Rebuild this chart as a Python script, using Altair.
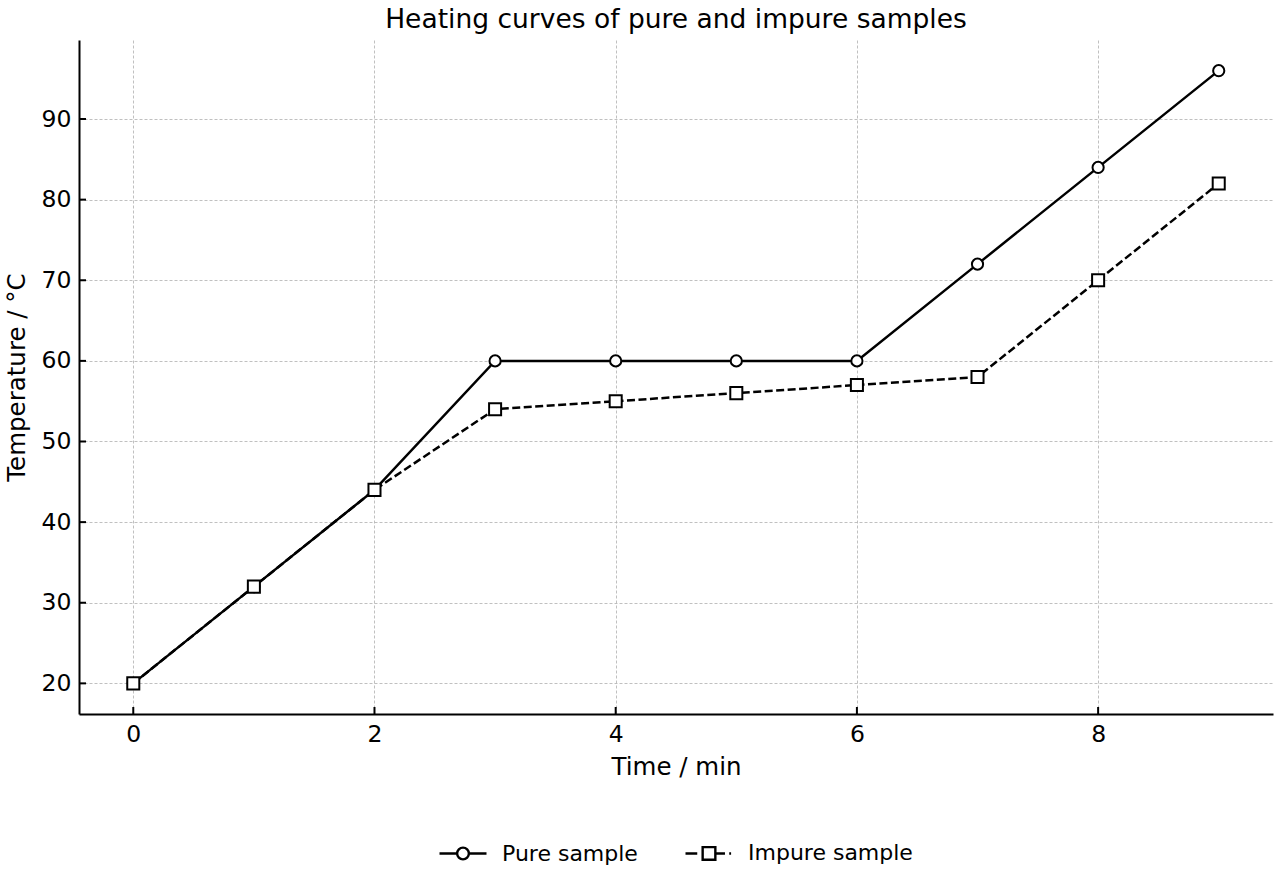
import altair as alt
import pandas as pd

# Heating data: temperature (°C) read every minute
time_min = [0, 1, 2, 3, 4, 5, 6, 7, 8, 9]
pure_temp = [20, 32, 44, 60, 60, 60, 60, 72, 84, 96]
impure_temp = [20, 32, 44, 54, 55, 56, 57, 58, 70, 82]
series_names = ["Pure sample", "Impure sample"]

x_ticks = [0, 2, 4, 6, 8]
y_ticks = [20, 30, 40, 50, 60, 70, 80, 90]

FONT = "DejaVu Sans"

df = pd.DataFrame(
    {
        "time": time_min + time_min,
        "temp": pure_temp + impure_temp,
        "series": [series_names[0]] * len(time_min) + [series_names[1]] * len(time_min),
    }
)

x_scale = alt.Scale(domain=[-0.45, 9.45], nice=False, zero=False)
y_scale = alt.Scale(domain=[16.2, 99.8], nice=False, zero=False)

x_enc = alt.X(
    "time:Q",
    scale=x_scale,
    axis=alt.Axis(
        values=x_ticks,
        title="Time / min",
        titlePadding=10,
        labelPadding=8,
        ticks=False,
        format="d",
    ),
)
y_enc = alt.Y(
    "temp:Q",
    scale=y_scale,
    axis=alt.Axis(
        values=y_ticks,
        title="Temperature / °C",
        titlePadding=12,
        labelPadding=8,
        ticks=False,
        format="d",
    ),
)

base = alt.Chart(df).encode(x=x_enc, y=y_enc)

pure_line = base.transform_filter(alt.datum.series == series_names[0]).mark_line(
    color="black", strokeWidth=2.5
)
pure_pts = base.transform_filter(alt.datum.series == series_names[0]).mark_point(
    shape="circle", size=125, filled=True, fill="white", stroke="black", strokeWidth=2, opacity=1
)
impure_line = base.transform_filter(alt.datum.series == series_names[1]).mark_line(
    color="black", strokeWidth=2.5, strokeDash=[8, 3.5]
)
impure_pts = base.transform_filter(alt.datum.series == series_names[1]).mark_point(
    shape="square", size=145, filled=True, fill="white", stroke="black", strokeWidth=2, opacity=1
)

# Legend glyphs: line + marker, drawn as custom symbol paths
pure_glyph = (
    "M-1,0L-0.25,0M0.25,0L1,0"
    "M-0.25,0A0.25,0.25,0,1,1,0.25,0A0.25,0.25,0,1,1,-0.25,0Z"
)
impure_glyph = (
    "M-1,0L-0.5,0M0.27,0L0.68,0M0.86,0L0.94,0"
    "M-0.27,-0.27L0.27,-0.27L0.27,0.27L-0.27,0.27Z"
)

legend_layer = (
    alt.Chart(df)
    .transform_filter(alt.datum.series == "none")
    .mark_point(filled=False, color="black", strokeWidth=2, opacity=1)
    .encode(
        x=alt.X("time:Q", scale=x_scale),
        y=alt.Y("temp:Q", scale=y_scale),
        shape=alt.Shape(
            "series:N",
            scale=alt.Scale(domain=series_names, range=[pure_glyph, impure_glyph]),
            legend=alt.Legend(
                title=None,
                orient="none",
                direction="horizontal",
                legendX=359,
                legendY=788,
                symbolSize=2209,
                symbolStrokeWidth=2.4,
                symbolStrokeColor="black",
                symbolOpacity=1,
                labelFontSize=22,
                labelFont=FONT,
                labelColor="black",
                labelOffset=14,
                labelLimit=0,
                columnPadding=42,
                padding=0,
            ),
        ),
    )
)

# Inward tick marks along the bottom and left axes
x_tick_df = pd.DataFrame({"t": x_ticks})
y_tick_df = pd.DataFrame({"v": y_ticks})
x_tick_marks = (
    alt.Chart(x_tick_df)
    .mark_rule(color="black", strokeWidth=2)
    .encode(x=alt.X("t:Q", scale=x_scale), y=alt.value(674), y2=alt.value(667))
)
y_tick_marks = (
    alt.Chart(y_tick_df)
    .mark_rule(color="black", strokeWidth=2)
    .encode(y=alt.Y("v:Q", scale=y_scale), x=alt.value(0), x2=alt.value(7))
)

chart = (
    alt.layer(pure_line, pure_pts, impure_line, impure_pts, legend_layer, x_tick_marks, y_tick_marks)
    .properties(
        width=1194,
        height=674,
        title=alt.TitleParams(
            "Heating curves of pure and impure samples",
            font=FONT,
            fontSize=26.5,
            fontWeight="normal",
            color="black",
            anchor="middle",
            offset=7,
        ),
        autosize=alt.AutoSizeParams(type="none"),
        padding={"left": 79, "top": 40, "right": 7, "bottom": 166},
    )
    .configure_view(stroke=None)
    .configure_axis(
        labelFont=FONT,
        labelFontSize=23.5,
        labelColor="black",
        titleFont=FONT,
        titleFontSize=24.5,
        titleFontWeight="normal",
        titleColor="black",
        domainColor="black",
        domainWidth=2,
        grid=True,
        gridColor="#b0b0b0",
        gridWidth=0.8,
        gridDash=[3, 2],
    )
)

chart.save("out.html", embed_options={"renderer": "svg", "actions": False})
